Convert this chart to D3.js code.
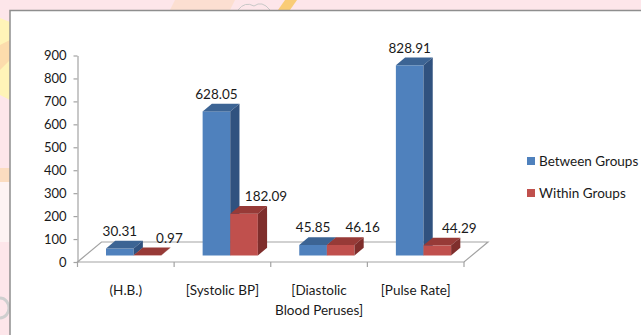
<!DOCTYPE html>
<html>
<head>
<meta charset="utf-8">
<script src="https://cdn.jsdelivr.net/npm/d3@7"></script>
<style>
  html, body { margin: 0; padding: 0; background: #fde6ea; }
  svg { display: block; }
  text { font-family: Lato, "Open Sans", sans-serif; fill: #1a1a1a; }
</style>
</head>
<body>
<svg id="chart" width="641" height="335"></svg>
<script>
// Group comparison values per measure
const categories = ["(H.B.)", "[Systolic BP]", "[Diastolic\nBlood Peruses]", "[Pulse Rate]"];
const seriesNames = ["Between Groups", "Within Groups"];
const betweenGroups = [30.31, 628.05, 45.85, 828.91];
const withinGroups = [0.97, 182.09, 46.16, 44.29];
const yTicks = [0, 100, 200, 300, 400, 500, 600, 700, 800, 900];

const seriesValues = [betweenGroups, withinGroups];
const palette = [
  { front: "#4f81bd", top: "#3c6494", side: "#30527f" },
  { front: "#c0504d", top: "#973a37", side: "#7f2e2c" }
];

const svg = d3.select("#chart");

// Soft decorative backdrop around the frame
const deco = svg.append("g");
deco.append("path").attr("d", "M0,18 L10,22 L10,100 L0,95 Z").attr("fill", "#fff4b8");
deco.append("path").attr("d", "M0,45 L10,40 L10,60 L0,70 Z").attr("fill", "#fbd2a6").attr("opacity", 0.7);
deco.append("rect").attr("x", 0).attr("y", 168).attr("width", 10).attr("height", 14).attr("fill", "#fbdcc0");
deco.append("rect").attr("x", 0).attr("y", 182).attr("width", 10).attr("height", 60).attr("fill", "#fdf3f3");
deco.append("path").attr("d", "M285,0 L297,0 L290,10 L278,10 Z").attr("fill", "#f7c55a").attr("opacity", 0.8);
deco.append("path").attr("d", "M175,0 L235,0 L230,10 L170,10 Z").attr("fill", "#fbdcc6").attr("opacity", 0.7);
deco.append("path").attr("d", "M238,10 Q245,1 254,6 Q262,0 270,10").attr("fill", "none").attr("stroke", "#c8c8c8");
deco.append("path").attr("d", "M0,298 A9,10 0 0 1 0,318").attr("fill", "none").attr("stroke", "#cfcfcf").attr("stroke-width", 3);

// Chart frame
svg.append("rect")
  .attr("x", 10).attr("y", 10.5).attr("width", 640).attr("height", 330)
  .attr("fill", "#ffffff").attr("stroke", "#8e8e8e").attr("stroke-width", 1.5);

// Scales
const x0 = d3.scaleBand().domain(categories).range([77.5, 464]).paddingInner(0).paddingOuter(0);
const x1 = d3.scaleBand().domain(seriesNames).range([0, x0.bandwidth()]).paddingInner(0).paddingOuter(0.75);
const y = d3.scaleLinear().domain([0, 900]).range([262, 55.5]);

// Projection of the depth axis
const floorDepth = { dx: 24, dy: -20 };
const barFront = 0.325, barBack = 0.71;
const bf = { dx: floorDepth.dx * barFront, dy: floorDepth.dy * barFront };
const bd = { dx: floorDepth.dx * (barBack - barFront), dy: floorDepth.dy * (barBack - barFront) };

const lineColor = "#a3a3a3";

// Floor
const [fx0, fx1] = x0.range();
const fy = y(0);
svg.append("path")
  .attr("d", `M${fx0},${fy} L${fx1},${fy} L${fx1 + floorDepth.dx},${fy + floorDepth.dy} L${fx0 + floorDepth.dx},${fy + floorDepth.dy} Z`)
  .attr("fill", "none").attr("stroke", lineColor).attr("stroke-width", 1.2);

// Category boundary ticks
const bounds = categories.map(c => x0(c)).concat([fx1]);
svg.append("g").selectAll("line").data(bounds).join("line")
  .attr("x1", d => d).attr("x2", d => d)
  .attr("y1", fy).attr("y2", fy + 5)
  .attr("stroke", lineColor).attr("stroke-width", 1.2);

// Value axis
const yAxis = svg.append("g")
  .attr("transform", `translate(${fx0},0)`)
  .call(d3.axisLeft(y).tickValues(yTicks).tickSize(4).tickPadding(7).tickSizeOuter(0));
yAxis.select(".domain").attr("stroke", lineColor).attr("stroke-width", 1.2);
yAxis.selectAll(".tick line").attr("stroke", lineColor).attr("stroke-width", 1.2);
yAxis.selectAll(".tick text").style("font-size", "13px").style("font-family", "Lato, sans-serif").attr("fill", "#1a1a1a");

// Bars
const bars = svg.append("g");
categories.forEach((cat, ci) => {
  seriesNames.forEach((s, si) => {
    const v = seriesValues[si][ci];
    const c = palette[si];
    const w = x1.bandwidth();
    const xl = x0(cat) + x1(s) + bf.dx;
    const yb = y(0) + bf.dy;
    const yt = y(v) + bf.dy;
    const g = bars.append("g");
    g.append("rect").attr("x", xl).attr("y", yt).attr("width", w).attr("height", yb - yt).attr("fill", c.front);
    g.append("path")
      .attr("d", `M${xl},${yt} L${xl + w},${yt} L${xl + w + bd.dx},${yt + bd.dy} L${xl + bd.dx},${yt + bd.dy} Z`)
      .attr("fill", c.top);
    g.append("path")
      .attr("d", `M${xl + w},${yt} L${xl + w + bd.dx},${yt + bd.dy} L${xl + w + bd.dx},${yb + bd.dy} L${xl + w},${yb} Z`)
      .attr("fill", c.side);
  });
});

// Data labels
const labels = svg.append("g");
categories.forEach((cat, ci) => {
  seriesNames.forEach((s, si) => {
    const v = seriesValues[si][ci];
    const w = x1.bandwidth();
    const xc = x0(cat) + x1(s) + bf.dx + w / 2 + (si === 1 ? 22 : 0);
    const yTopBack = y(v) + bf.dy + bd.dy;
    labels.append("text")
      .attr("x", xc).attr("y", yTopBack - 5)
      .attr("text-anchor", "middle")
      .style("font-size", "13.5px")
      .text(d3.format(".2f")(v));
  });
});

// Category labels
const catLabels = svg.append("g");
categories.forEach(cat => {
  const lines = cat.split("\n");
  const t = catLabels.append("text")
    .attr("x", x0(cat) + x0.bandwidth() / 2)
    .attr("y", 295)
    .attr("text-anchor", "middle")
    .style("font-size", "13.5px");
  lines.forEach((ln, i) => {
    t.append("tspan").attr("x", x0(cat) + x0.bandwidth() / 2).attr("dy", i === 0 ? 0 : 20).text(ln);
  });
});

// Legend
const legend = svg.append("g").attr("transform", "translate(527,157)");
seriesNames.forEach((s, i) => {
  const row = legend.append("g").attr("transform", `translate(0,${i * 32})`);
  row.append("rect").attr("width", 8).attr("height", 8).attr("fill", palette[i].front);
  row.append("text").attr("x", 12).attr("y", 8.5).style("font-size", "13.5px").text(s);
});
</script>
</body>
</html>
